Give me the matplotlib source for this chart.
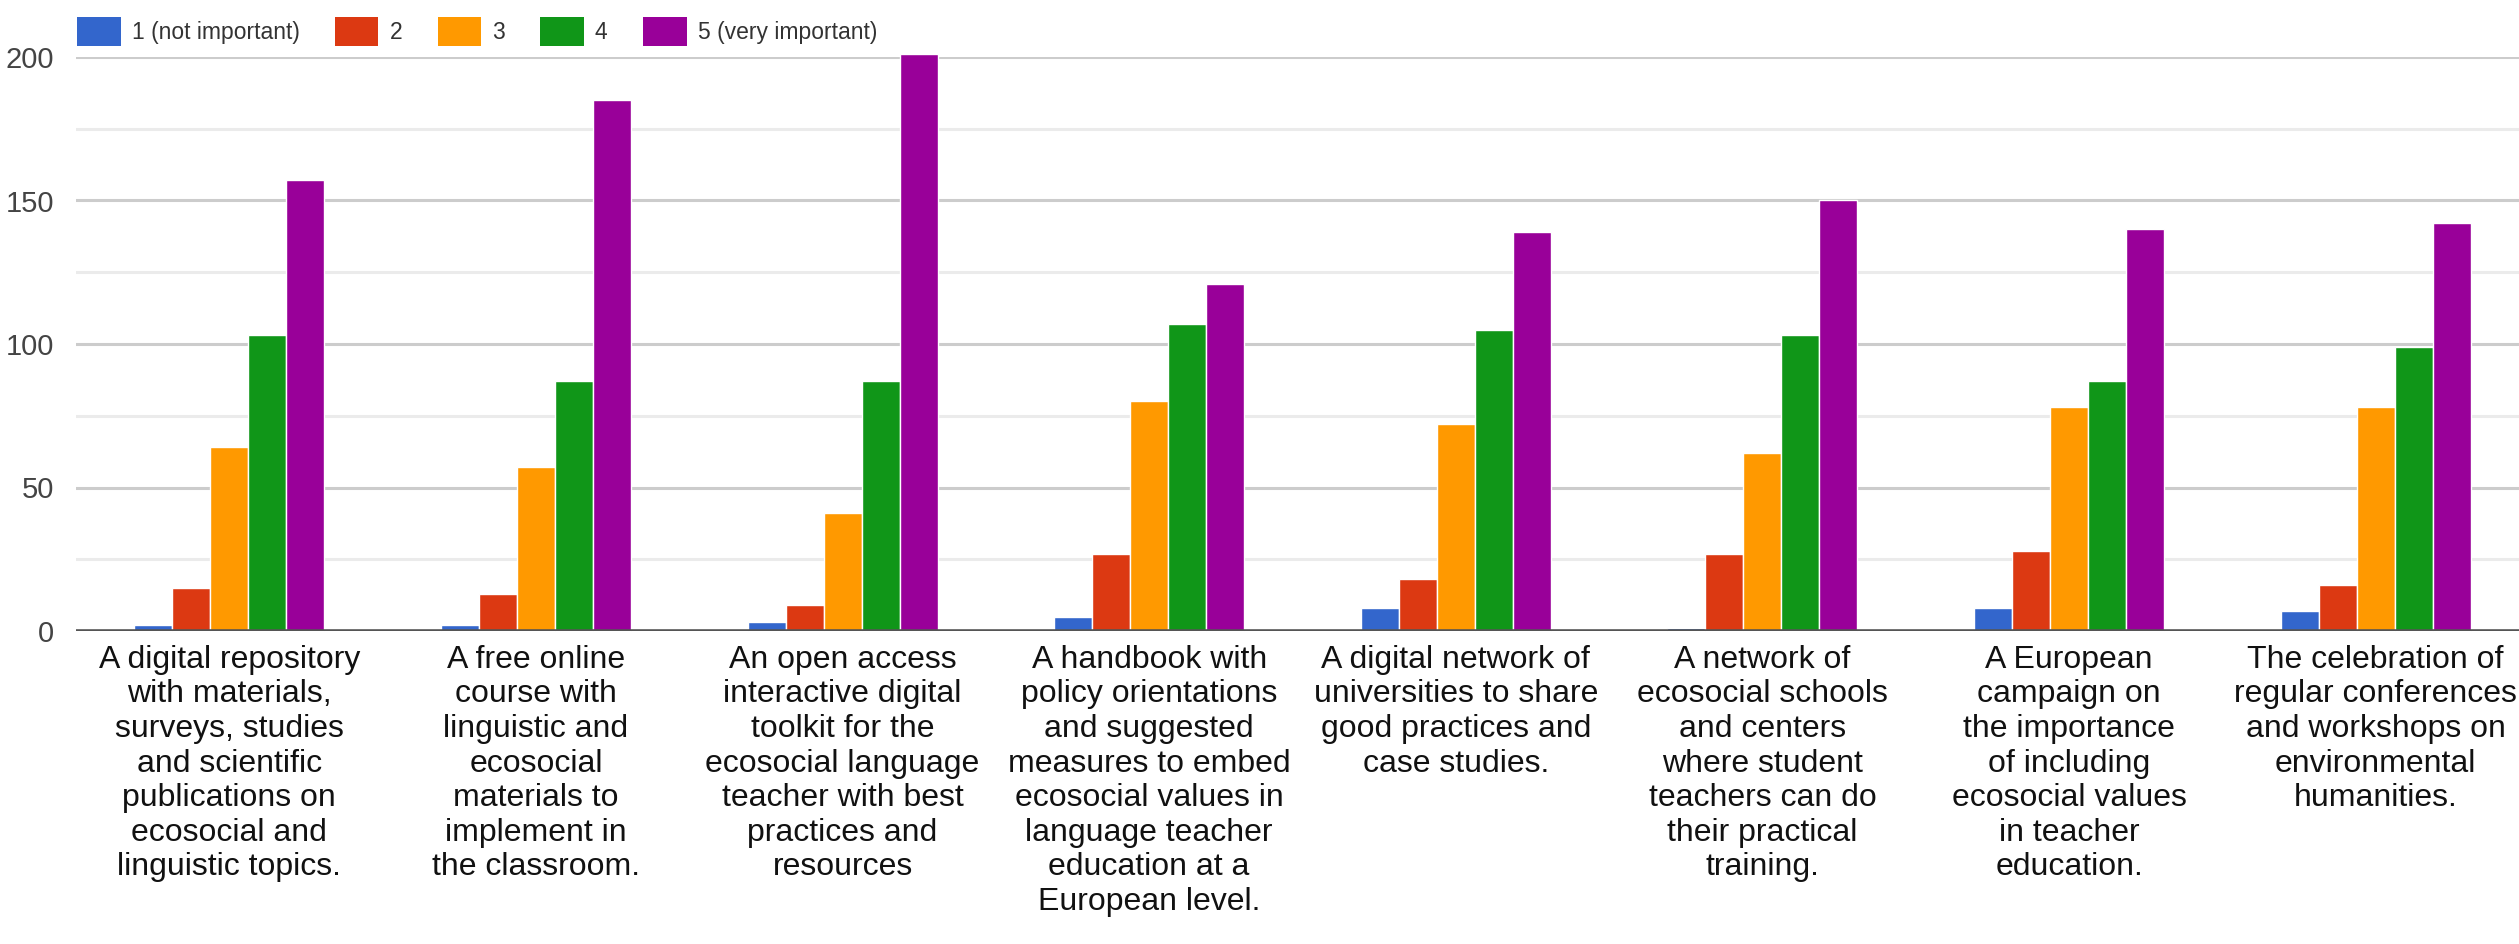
import numpy as np
import matplotlib
matplotlib.use('Agg')
import matplotlib.pyplot as plt
from matplotlib.patches import Patch

plt.rcParams['font.family'] = ['Liberation Sans', 'DejaVu Sans']

# data
categories = [
    "A digital repository\nwith materials,\nsurveys, studies\nand scientific\npublications on\necosocial and\nlinguistic topics.",
    "A free online\ncourse with\nlinguistic and\necosocial\nmaterials to\nimplement in\nthe classroom.",
    "An open access\ninteractive digital\ntoolkit for the\necosocial language\nteacher with best\npractices and\nresources",
    "A handbook with\npolicy orientations\nand suggested\nmeasures to embed\necosocial values in\nlanguage teacher\neducation at a\nEuropean level.",
    "A digital network of\nuniversities to share\ngood practices and\ncase studies.",
    "A network of\necosocial schools\nand centers\nwhere student\nteachers can do\ntheir practical\ntraining.",
    "A European\ncampaign on\nthe importance\nof including\necosocial values\nin teacher\neducation.",
    "The celebration of\nregular conferences\nand workshops on\nenvironmental\nhumanities.",
]
series_names = ['1 (not important)', '2', '3', '4', '5 (very important)']
score_1 = [2, 2, 3, 5, 8, 1, 8, 7]
score_2 = [15, 13, 9, 27, 18, 27, 28, 16]
score_3 = [64, 57, 41, 80, 72, 62, 78, 78]
score_4 = [103, 87, 87, 107, 105, 103, 87, 99]
score_5 = [157, 185, 201, 121, 139, 150, 140, 142]
colors = ['#3366cc', '#dc3912', '#ff9900', '#109618', '#990099']

W, H = 2519, 944
fig = plt.figure(figsize=(W / 100, H / 100), dpi=100)
ax = fig.add_axes([76 / W, 313 / H, 2453 / W, 574 / H])

x = np.arange(len(categories))
bw = 0.124
all_series = [score_1, score_2, score_3, score_4, score_5]
for i, vals in enumerate(all_series):
    ax.bar(x + (i - 2) * bw, vals, width=bw, color=colors[i],
           edgecolor='white', linewidth=1.0, zorder=3, clip_on=False)

ax.set_xlim(-0.5, len(categories) - 0.5)
ax.set_ylim(0, 200)

# grid lines
for v in range(25, 201, 25):
    c = '#cccccc' if v % 50 == 0 else '#ebebeb'
    ax.axhline(v, color=c, linewidth=2.2, zorder=1)
ax.axhline(0, color='#555555', linewidth=2.6, zorder=4)

for s in ax.spines.values():
    s.set_visible(False)

ax.set_yticks([0, 50, 100, 150, 200])
ax.tick_params(axis='y', length=0, pad=16, labelsize=21, labelcolor='#444444')
ax.set_xticks(x)
ax.set_xticklabels(categories, fontsize=23, linespacing=1.2, color='#111111')
ax.tick_params(axis='x', length=0, pad=10)

# legend
handles = [Patch(facecolor=c, edgecolor='none') for c in colors]
fig.legend(handles, series_names, loc='center left',
           bbox_to_anchor=(77 / W, 1 - 31.5 / H), ncol=5, frameon=False,
           fontsize=16.5, handlelength=1.9, handleheight=1.55, handletextpad=0.48,
           columnspacing=1.55, borderpad=0, borderaxespad=0, labelcolor='#333333')

fig.savefig('out.png', dpi=100, facecolor='white')
